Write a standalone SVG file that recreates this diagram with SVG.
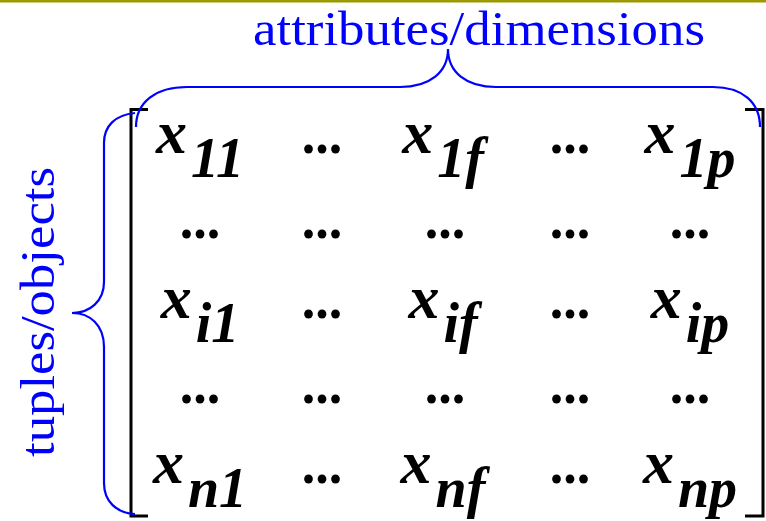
<svg xmlns="http://www.w3.org/2000/svg" width="766" height="521" viewBox="0 0 766 521">
<style>
.lbl{font-family:"Liberation Serif","Times New Roman",serif;font-size:48px;fill:#0000ff}
.m{font-family:"Liberation Serif","Times New Roman",serif;font-size:62px;font-weight:bold;font-style:italic;fill:#000;text-anchor:middle}
.s{font-size:56px}
.d{font-family:"Liberation Serif","Times New Roman",serif;font-size:54px;font-weight:bold;fill:#000;text-anchor:middle}
.br{fill:none;stroke:#000;stroke-width:3}
.bc{fill:none;stroke:#0000ff;stroke-width:2.2}
</style>
<rect x="0" y="0" width="766" height="2.5" fill="#9a9a00"/>
<g id="brackets">
<path class="br" d="M148,109.5 L131,109.5 L131,516 L148,516"/>
<path class="br" d="M745,109.5 L763,109.5 L763,516 L745,516"/>
</g>
<g id="attributes-label">
<text class="lbl" x="253" y="45" textLength="452" lengthAdjust="spacingAndGlyphs">attributes/dimensions</text>
</g>
<g id="tuples-label">
<text class="lbl" transform="translate(54,457) rotate(-90)" x="0" y="0" textLength="290" lengthAdjust="spacingAndGlyphs">tuples/objects</text>
</g>
<g id="connectors">
<path class="bc" d="M136,127 C136,102 156,87 187,87 L400,87 C430,87 448,72 448,49 C448,72 466,87 496,87 L713,87 C742,87 760,102 760,127"/>
<path class="bc" d="M135,113 C115,115 104,126 104,143 L104,282 C104,301 90,313 72,313 C90,313 104,325 104,347 L104,483 C104,501 116,513 135,514"/>
</g>
<g id="row1">
<g id="x11"><text class="m" x="200" y="153">x<tspan class="s" dx="4" dy="24">11</tspan></text></g>
<g id="d12"><text class="d" x="322" y="153">...</text></g>
<g id="x1f"><text class="m" x="443" y="153">x<tspan class="s" dx="4" dy="24">1f</tspan></text></g>
<g id="d14"><text class="d" x="570" y="153">...</text></g>
<g id="x1p"><text class="m" x="690" y="153">x<tspan class="s" dx="4" dy="24">1p</tspan></text></g>
</g>
<g id="row2">
<g id="d21"><text class="d" x="200" y="238">...</text></g>
<g id="d22"><text class="d" x="322" y="238">...</text></g>
<g id="d23"><text class="d" x="445" y="238">...</text></g>
<g id="d24"><text class="d" x="570" y="238">...</text></g>
<g id="d25"><text class="d" x="690" y="238">...</text></g>
</g>
<g id="row3">
<g id="xi1"><text class="m" x="200" y="318">x<tspan class="s" dx="4" dy="24">i1</tspan></text></g>
<g id="d32"><text class="d" x="322" y="318">...</text></g>
<g id="xif"><text class="m" x="443" y="318">x<tspan class="s" dx="4" dy="24">if</tspan></text></g>
<g id="d34"><text class="d" x="570" y="318">...</text></g>
<g id="xip"><text class="m" x="690" y="318">x<tspan class="s" dx="4" dy="24">ip</tspan></text></g>
</g>
<g id="row4">
<g id="d41"><text class="d" x="200" y="403">...</text></g>
<g id="d42"><text class="d" x="322" y="403">...</text></g>
<g id="d43"><text class="d" x="445" y="403">...</text></g>
<g id="d44"><text class="d" x="570" y="403">...</text></g>
<g id="d45"><text class="d" x="690" y="403">...</text></g>
</g>
<g id="row5">
<g id="xn1"><text class="m" x="200" y="483">x<tspan class="s" dx="4" dy="24">n1</tspan></text></g>
<g id="d52"><text class="d" x="322" y="483">...</text></g>
<g id="xnf"><text class="m" x="443" y="483">x<tspan class="s" dx="4" dy="24">nf</tspan></text></g>
<g id="d54"><text class="d" x="570" y="483">...</text></g>
<g id="xnp"><text class="m" x="690" y="483">x<tspan class="s" dx="4" dy="24">np</tspan></text></g>
</g>
</svg>
